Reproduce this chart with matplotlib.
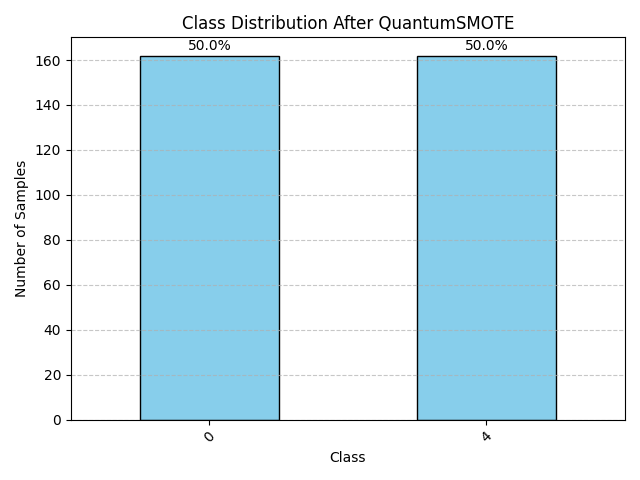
import matplotlib
matplotlib.use("Agg")
import matplotlib.pyplot as plt
import pandas as pd

classes = ["0", "4"]
counts = [162, 162]

s = pd.Series(counts, index=classes)

fig, ax = plt.subplots(figsize=(6.4, 4.8))
s.plot(kind="bar", ax=ax, color="skyblue", edgecolor="black")
total = sum(counts)
for i, v in enumerate(counts):
    ax.text(i, v + 1, f"{v / total * 100:.1f}%", ha="center", va="bottom")
ax.set_title("Class Distribution After QuantumSMOTE")
ax.set_xlabel("Class")
ax.set_ylabel("Number of Samples")
ax.tick_params(axis="x", rotation=45)
ax.grid(axis="y", linestyle="--", alpha=0.7)
plt.tight_layout()
plt.savefig("out.png", dpi=100)
